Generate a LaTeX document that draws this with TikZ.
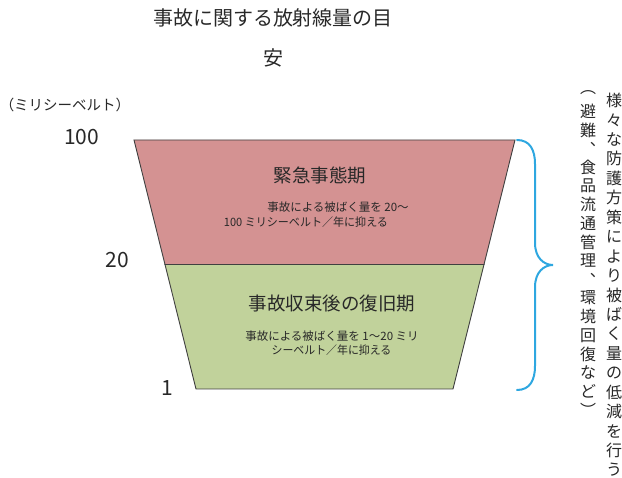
\documentclass[tikz,border=0pt]{standalone}
\usepackage{fontspec}
\setmainfont{Noto Sans CJK JP}
\definecolor{redfill}{RGB}{212,146,146}
\definecolor{greenfill}{RGB}{193,210,155}
\definecolor{edge}{RGB}{64,64,64}
\definecolor{bracec}{RGB}{46,167,224}
\definecolor{txt}{RGB}{40,40,40}
\tikzset{
  lbl/.style={inner sep=0pt, text=txt},
  ttl/.style={lbl, font=\fontsize{20}{24}\selectfont},
  axis/.style={lbl, font=\fontsize{21}{24}\selectfont},
  phase/.style={lbl, font=\fontsize{18.5}{22}\selectfont},
  sub/.style={lbl, font=\fontsize{11.5}{14}\selectfont},
  vchar/.style={lbl, font=\fontsize{16}{16}\selectfont, minimum width=16pt, minimum height=16pt},
  band/.style={draw=edge, line width=0.9pt, line join=miter},
}
\begin{document}
\begin{tikzpicture}[x=1pt,y=-1pt]
\useasboundingbox (0,0) rectangle (622,478);
% trapezoid bands
\coordinate (tl) at (134,140);
\coordinate (tr) at (515,140);
\coordinate (ml) at (165,264.5);
\coordinate (mr) at (484,264.5);
\coordinate (bl) at (196,389);
\coordinate (br) at (453,389);
\draw[band, fill=redfill] (tl) -- (tr) -- (mr) -- (ml) -- cycle;
\draw[band, fill=greenfill] (ml) -- (mr) -- (br) -- (bl) -- cycle;
% title
\node[ttl] (t1) at (273,18) {事故に関する放射線量の目};
\node[ttl] (t2) at (273,58) {安};
% axis
\node[lbl, font=\fontsize{14.5}{16}\selectfont] (unit) at (65,105) {（ミリシーベルト）};
\node[axis] (v100) at (81.5,137) {100};
\node[axis] (v20) at (117.5,260) {20};
\node[axis] (v1) at (167,388) {1};
% red band text
\node[phase] (p1) at (320,175) {緊急事態期};
\node[sub] (p1a) at (338,207) {事故による被ばく量を 20～};
\node[sub, xscale=0.96] (p1b) at (306,222) {100 ミリシーベルト／年に抑える};
% green band text
\node[phase] (p2) at (332,303) {事故収束後の復旧期};
\node[sub] (p2a) at (332,336) {事故による被ばく量を 1～20 ミリ};
\node[sub, xscale=0.95] (p2b) at (331.5,350) {シーベルト／年に抑える};
% brace
\coordinate (bt) at (517,140);
\coordinate (bb) at (517,390);
\coordinate (tip) at (553,265);
\draw[bracec, line width=2pt, line cap=round]
  (bt) .. controls (530,140) and (535,150) .. (535,164) -- (535,243)
  .. controls (535,258) and (544,265) .. (tip)
  .. controls (544,265) and (535,272) .. (535,287) -- (535,366)
  .. controls (535,380) and (530,390) .. (bb);
% vertical texts (one glyph per cell)
\foreach \c [count=\i] in {様,々,な,防,護,方,策,に,よ,り,被,ば,く,量,の,低,減,を,行,う}
  \node[vchar] (va\i) at (614,{100.5+(\i-1)*19.45}) {\c};
\foreach \c [count=\i] in {︵,避,難,︑,食,品,流,通,管,理,︑,環,境,回,復,な,ど,︶}
  \node[vchar] (vb\i) at (588,{92.8+(\i-1)*18.67}) {\c};
\end{tikzpicture}
\end{document}
